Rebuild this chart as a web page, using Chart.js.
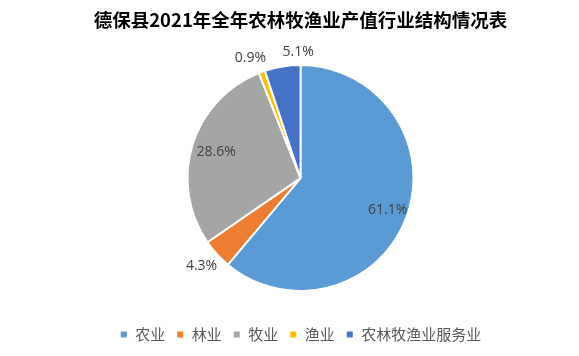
<!DOCTYPE html>
<html><head><meta charset="utf-8">
<script src="https://cdn.jsdelivr.net/npm/chart.js@4/dist/chart.umd.min.js"></script>
<style>html,body{margin:0;padding:0;background:#fff;}#wrap{width:579px;height:356px;position:relative;}</style>
</head><body><div id="wrap"><canvas id="c" width="579" height="356"></canvas></div>
<script>
const titleText = '德保县2021年全年农林牧渔业产值行业结构情况表';
const categories = ['农业', '林业', '牧业', '渔业', '农林牧渔业服务业'];
const values = [61.1, 4.3, 28.6, 0.9, 5.1];
const labelTexts = ['61.1%', '4.3%', '28.6%', '0.9%', '5.1%'];
const colors = ['#5B9BD5', '#ED7D31', '#A5A5A5', '#FFC000', '#4472C4'];
// label placement: radial factor (relative to radius) and small pixel nudges
const labelRadial = [0.82, 1.16, 0.78, 1.14, 1.13];
const labelNudgeX = [0, -2, 0, -6, 18];
const labelNudgeY = [0, 0, 0, 1, 0];

const labelPlugin = {
  id: 'pieLabels',
  afterDatasetsDraw(chart) {
    const ctx = chart.ctx;
    const meta = chart.getDatasetMeta(0);
    ctx.save();
    ctx.font = '14px "Open Sans", "DejaVu Sans", sans-serif';
    ctx.fillStyle = '#404040';
    ctx.textAlign = 'center';
    ctx.textBaseline = 'middle';
    meta.data.forEach((arc, i) => {
      const p = arc.getProps(['x', 'y', 'startAngle', 'endAngle', 'outerRadius'], true);
      const mid = (p.startAngle + p.endAngle) / 2;
      const r = p.outerRadius * labelRadial[i];
      const x = p.x + Math.cos(mid) * r + labelNudgeX[i];
      const y = p.y + Math.sin(mid) * r + labelNudgeY[i];
      ctx.fillText(labelTexts[i], x, y);
    });
    ctx.restore();
  }
};

new Chart(document.getElementById('c'), {
  type: 'pie',
  data: {
    labels: categories,
    datasets: [{
      data: values,
      backgroundColor: colors,
      borderColor: '#ffffff',
      borderWidth: 2,
      radius: 113
    }]
  },
  options: {
    responsive: false,
    animation: false,
    layout: { padding: { left: 22, right: 0, top: 0, bottom: 4 } },
    plugins: {
      title: {
        display: true,
        text: titleText,
        color: '#000000',
        font: { family: '"Noto Sans CJK SC", sans-serif', size: 18.5, weight: 'bold' },
        padding: { top: 9, bottom: 9 }
      },
      legend: {
        position: 'bottom',
        labels: {
          color: '#595959',
          boxWidth: 8,
          boxHeight: 8,
          padding: 11,
          font: { family: '"Noto Sans CJK SC", sans-serif', size: 15 }
        }
      },
      tooltip: { enabled: false }
    }
  },
  plugins: [labelPlugin]
});
</script></body></html>
